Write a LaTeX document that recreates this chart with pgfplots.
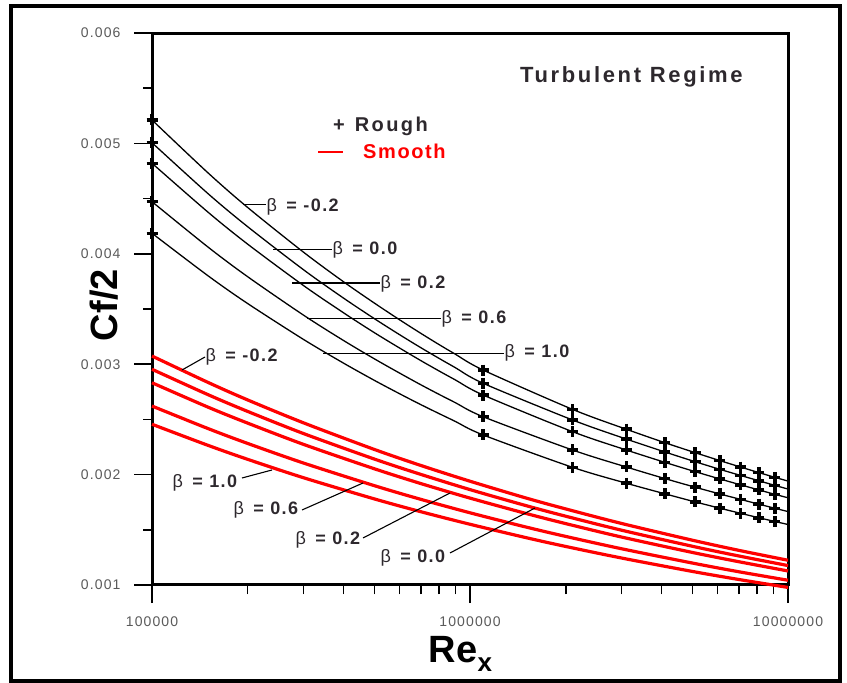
\documentclass[border=0pt]{standalone}
\usepackage{fontspec}
\setmainfont{Liberation Sans}[LetterSpace=8]
\newfontfamily\plainsans{Liberation Sans}
\usepackage{pgfplots}
\usepackage{pgfplotstable}
\pgfplotsset{compat=1.18}
\definecolor{tickgray}{RGB}{90,90,90}
\definecolor{labgray}{RGB}{45,40,45}

% rough wall, beta = -0.2, 0.0, 0.2, 0.6, 1.0
\pgfplotstableread{
re cfa cfb cfc cfd cfe
1e5   0.005212 0.005006 0.004820 0.004472 0.004186
1.5e5 0.004733 0.004545 0.004377 0.004061 0.003801
2e5   0.004419 0.004245 0.004087 0.003792 0.003549
3e5   0.004013 0.003854 0.003711 0.003443 0.003223
4e5   0.003747 0.003599 0.003466 0.003215 0.003010
5e5   0.003554 0.003413 0.003286 0.003049 0.002854
6e5   0.003403 0.003268 0.003147 0.002920 0.002733
7e5   0.003280 0.003150 0.003033 0.002814 0.002634
8e5   0.003177 0.003052 0.002938 0.002726 0.002552
9e5   0.003090 0.002968 0.002857 0.002651 0.002481
1.1e6 0.002947 0.002827 0.002721 0.002524 0.002359
2.1e6 0.002591 0.002495 0.002389 0.002223 0.002066
3.1e6 0.002411 0.002322 0.002223 0.002069 0.001922
4.1e6 0.002289 0.002205 0.002111 0.001964 0.001826
5.1e6 0.002199 0.002117 0.002027 0.001886 0.001753
6.1e6 0.002127 0.002048 0.001961 0.001825 0.001696
7.1e6 0.002068 0.001992 0.001907 0.001775 0.001649
8.1e6 0.002018 0.001944 0.001861 0.001732 0.001609
9.1e6 0.001975 0.001902 0.001821 0.001695 0.001575
1e7   0.001941 0.001869 0.001790 0.001665 0.001548
}\rough

% smooth wall, beta = -0.2, 0.0, 0.2, 0.6, 1.0
\pgfplotstableread{
re cfa cfb cfc cfd cfe
1e5   0.003074 0.002954 0.002832 0.002621 0.002456
1.5e5 0.002835 0.002724 0.002611 0.002417 0.002265
2e5   0.002676 0.002572 0.002466 0.002282 0.002138
3e5   0.002468 0.002371 0.002273 0.002104 0.001971
5e5   0.002228 0.002141 0.002053 0.001900 0.001780
7e5   0.002083 0.002002 0.001919 0.001776 0.001664
1e6   0.001940 0.001864 0.001787 0.001654 0.001550
1.5e6 0.001788 0.001719 0.001648 0.001525 0.001429
2e6   0.001689 0.001623 0.001556 0.001440 0.001349
3e6   0.001557 0.001496 0.001434 0.001328 0.001244
5e6   0.001406 0.001351 0.001295 0.001199 0.001123
7e6   0.001314 0.001263 0.001211 0.001120 0.001050
1e7   0.001224 0.001176 0.001127 0.001043 0.000978
}\smooth

\newcommand{\blab}[1]{\fontsize{18}{18}\selectfont{\mdseries β}\,\bfseries{} = #1}

\begin{document}
\begin{tikzpicture}[x=1pt,y=1pt]
\path[use as bounding box] (0,0) rectangle (847,683);
\draw[line width=4pt] (11,2) rectangle (840,677);

\begin{axis}[
    at={(152pt,98pt)}, anchor=south west,
    scale only axis, width=636pt, height=552pt,
    xmode=log, xmin=1e5, xmax=1e7,
    ymin=0.001, ymax=0.006,
    scaled y ticks=false,
    clip=false,
    axis line style={line width=3pt},
    tick pos=left, tick align=outside,
    major tick length=18pt, minor tick length=9pt,
    tick style={black, line width=1.5pt},
    xtick={1e5,1e6,1e7},
    minor xtick={},
    extra x ticks={2e5,3e5,4e5,5e5,6e5,7e5,8e5,9e5,2e6,3e6,4e6,5e6,6e6,7e6,8e6,9e6},
    extra x tick labels={},
    extra x tick style={major tick length=9pt, tick align=outside, xticklabels={}},
    xticklabels={100000,1000000,10000000},
    ytick={0.001,0.002,0.003,0.004,0.005,0.006},
    yticklabels={0.001,0.002,0.003,0.004,0.005,0.006},
    minor ytick={0.0015,0.0025,0.0035,0.0045,0.0055},
    ticklabel style={font=\fontsize{14}{14}\selectfont, text=tickgray},
    xticklabel style={yshift=-10pt},
    yticklabel style={xshift=-10pt},
    xlabel={\fontsize{38}{38}\selectfont\plainsans\bfseries Re\raisebox{-9pt}{\fontsize{26}{26}\selectfont x}},
    xlabel style={at={(axis description cs:0.485,-0.1395)}, anchor=base},
    ylabel={\fontsize{38}{38}\selectfont\plainsans\bfseries Cf/2},
    ylabel style={at={(axis description cs:-0.0535,0.507)}, anchor=base},
]
\foreach \c in {cfa,cfb,cfc,cfd,cfe}{
  \addplot[red, line width=3.2pt, smooth] table[x=re, y=\c] {\smooth};
}
\foreach \c in {cfa,cfb,cfc,cfd,cfe}{
  \addplot[black, line width=1.3pt, smooth] table[x=re, y=\c] {\rough};
  \addplot[only marks, mark=+, mark size=5.5pt, mark options={line width=3.5pt, black},
    skip coords between index={1}{10}, skip coords between index={19}{20}]
    table[x=re, y=\c] {\rough};
}
\end{axis}

% title and legend
\node[anchor=base west, inner sep=0, text=labgray] at (520,600)
  {\fontsize{22}{22}\selectfont\addfontfeature{LetterSpace=12}\bfseries Turbulent Regime};
\node[anchor=base west, inner sep=0, text=labgray] at (333,551)
  {\fontsize{20}{20}\selectfont\bfseries +\hspace{10pt}\addfontfeature{LetterSpace=12}Rough};
\draw[red, line width=1.6pt] (318,531) -- (343,531);
\node[anchor=base west, inner sep=0, text=red] at (363,524)
  {\fontsize{20}{20}\selectfont\bfseries Smooth};

% rough labels
\begin{scope}[line width=1.3pt]
\draw (243,478.7) -- (266,478.7);
\node[anchor=west, inner sep=0, text=labgray] at (266,476.5) {\blab{-0.2}};
\draw (273,433.7) -- (332,433.7);
\node[anchor=west, inner sep=0, text=labgray] at (332,433) {\blab{0.0}};
\draw (292,400) -- (380,400);
\node[anchor=west, inner sep=0, text=labgray] at (380,399) {\blab{0.2}};
\draw (307,364.5) -- (441,364.5);
\node[anchor=west, inner sep=0, text=labgray] at (441,364) {\blab{0.6}};
\draw (323,329.7) -- (504,329.7);
\node[anchor=west, inner sep=0, text=labgray] at (504,330) {\blab{1.0}};
\end{scope}

% smooth labels
\begin{scope}[line width=1.1pt]
\draw (182,313) -- (205,326);
\node[anchor=west, inner sep=0, text=labgray] at (205,326.3) {\blab{-0.2}};
\draw (242,205) -- (272,213);
\node[anchor=west, inner sep=0, text=labgray] at (172,199.7) {\blab{1.0}};
\draw (302,173) -- (363,200);
\node[anchor=west, inner sep=0, text=labgray] at (233,173) {\blab{0.6}};
\draw (363,145) -- (450,190);
\node[anchor=west, inner sep=0, text=labgray] at (295,143) {\blab{0.2}};
\draw (450,130) -- (535,175);
\node[anchor=west, inner sep=0, text=labgray] at (380,125) {\blab{0.0}};
\end{scope}
\end{tikzpicture}
\end{document}
